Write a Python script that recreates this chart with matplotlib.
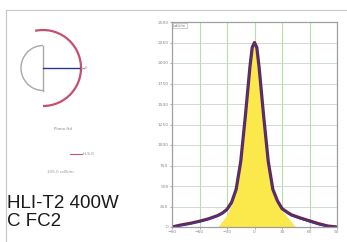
import matplotlib

matplotlib.use('Agg')
import matplotlib.pyplot as plt
from matplotlib.patches import Arc

# photometric profile, degrees -> cd/klm
angles = [-90, -80, -70, -60, -50, -40, -35, -30, -25, -20, -15, -10, -5, -2.5,
          0, 2.5, 5, 10, 15, 20, 25, 30, 35, 40, 50, 60, 70, 80, 90]
c0_vals = [0, 25, 45, 70, 100, 140, 170, 215, 300, 460, 800, 1350, 1950, 2190,
           2250, 2190, 1950, 1350, 800, 460, 320, 225, 185, 150, 110, 75, 40, 12, 0]
c90_vals = [0, 20, 40, 65, 95, 135, 165, 210, 295, 450, 790, 1340, 1940, 2180,
            2240, 2180, 1940, 1340, 790, 450, 315, 220, 175, 140, 100, 65, 30, 8, 0]
# yellow reference area
fill_angles = [-40, -30, -25, -20, -15, -10, -5, -2.5, 0, 2.5, 5, 10, 15, 20, 25, 30, 45]
fill_vals = [0, 150, 280, 450, 790, 1340, 1940, 2180, 2240, 2180, 1940, 1340, 790, 450, 310, 200, 0]

x_ticks = [-90, -60, -30, 0, 30, 60, 90]
y_ticks = list(range(0, 2501, 250))

title_lines = ['HLI-T2 400W', 'C FC2']

fig = plt.figure(figsize=(3.47, 2.42), dpi=100)
fig.patch.set_facecolor('white')

# overlay in pixel coordinates for frame, polar sketch and texts
bg = fig.add_axes([0, 0, 1, 1])
bg.set_xlim(0, 347)
bg.set_ylim(242, 0)
bg.axis('off')
bg.plot([6, 347], [9.5, 9.5], color='#c8c8c8', lw=0.8)
bg.plot([6.5, 6.5], [9.5, 242], color='#c8c8c8', lw=0.8)

# polar diagram sketch
cx, cy, r_beam = 43, 68, 38
bg.add_patch(Arc((cx, cy), 2 * r_beam, 2 * r_beam, theta1=-102, theta2=90,
                 color='#c4506e', lw=1.6))
bg.add_patch(Arc((cx, cy), 44, 45, theta1=90, theta2=270, color='#a8a8a8', lw=1.0))
bg.plot([cx, cx], [cy - 22.5, cy + 22.5], color='#a8a8a8', lw=1.0)
bg.plot([cx, cx + r_beam], [cy, cy], color='#2c3a8c', lw=1.0)
bg.plot([cx + r_beam, cx + r_beam + 3], [cy, cy], color='#a0a0a0', lw=1.0)
bg.text(cx + r_beam + 4, cy, '0', fontsize=2.5, color='#909090', va='center')
bg.text(63, 129, 'Piano Hd', fontsize=3, color='#888888', ha='center', va='center')
bg.plot([70, 82], [154, 154], color='#d0507a', lw=0.8)
bg.text(83, 154, 'HLS.0', fontsize=3, color='#888888', va='center')
bg.text(60, 172, '105.0 cd/klm', fontsize=3, color='#999999', ha='center', va='center')

bg.text(7, 204, title_lines[0], fontsize=13.5, color='#1a1a1a', va='center',
        family=['Liberation Sans', 'DejaVu Sans'])
bg.text(7, 222, title_lines[1], fontsize=13.5, color='#1a1a1a', va='center',
        family=['Liberation Sans', 'DejaVu Sans'])

# intensity curve
ax = fig.add_axes([172 / 347, 1 - 227 / 242, 165 / 347, 205 / 242])
ax.fill_between(fill_angles, fill_vals, color='#fbe84a', lw=0)
ax.plot(angles, c0_vals, color='#7a1f3d', lw=2.3)
ax.plot(angles, c90_vals, color='#3a3a8e', lw=1.1)
ax.set_xlim(-90, 90)
ax.set_ylim(0, 2500)
ax.set_xticks(x_ticks)
ax.set_yticks(y_ticks)
ax.grid(axis='x', color='#b8dcb0', lw=0.8)
ax.grid(axis='y', color='#c8d8c8', lw=0.6)
ax.set_axisbelow(True)
ax.tick_params(labelsize=3.2, colors='#888888', length=1.5, width=0.5, pad=1)
for s in ax.spines.values():
    s.set_color('#a0a0a0')
    s.set_linewidth(0.9)
ax.text(-88, 2480, 'cd/klm', fontsize=2.5, color='#777777', va='top',
        bbox=dict(facecolor='white', edgecolor='#aaaaaa', lw=0.4, pad=0.6))

fig.savefig('out.png', dpi=100)
